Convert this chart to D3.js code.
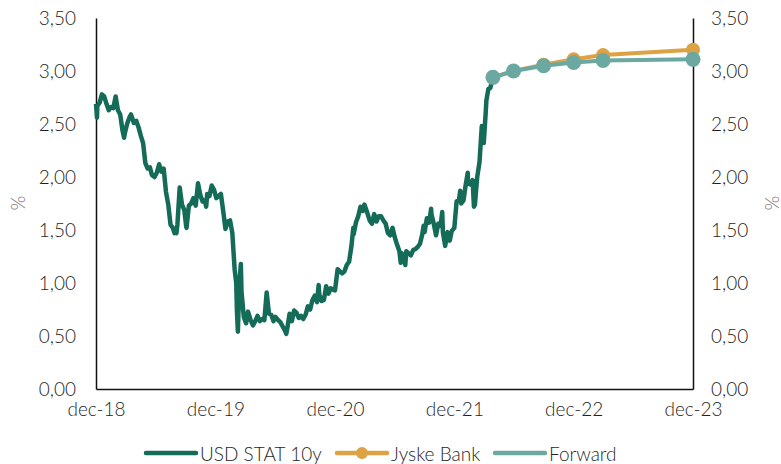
<!DOCTYPE html>
<html><head><meta charset="utf-8">
<script src="https://cdn.jsdelivr.net/npm/d3@7"></script>
<style>
html,body{margin:0;padding:0;background:#fff;}
text{font-family:Lato,"Open Sans",sans-serif;}
</style></head>
<body><svg id="chart" width="781" height="464"></svg>
<script>
// ---- data ----
const usdSeries = [
["2018-12-31",2.69],["2019-01-03",2.56],["2019-01-04",2.67],["2019-01-11",2.70],["2019-01-18",2.78],["2019-01-25",2.76],
["2019-02-01",2.69],["2019-02-08",2.63],["2019-02-15",2.66],["2019-02-22",2.65],["2019-03-01",2.76],["2019-03-08",2.63],
["2019-03-15",2.59],["2019-03-22",2.44],["2019-03-27",2.37],["2019-03-29",2.41],["2019-04-05",2.50],["2019-04-12",2.56],
["2019-04-17",2.59],["2019-04-26",2.51],["2019-05-03",2.53],["2019-05-10",2.47],["2019-05-17",2.39],["2019-05-24",2.32],
["2019-05-31",2.13],["2019-06-07",2.08],["2019-06-14",2.09],["2019-06-20",2.02],["2019-06-28",2.00],["2019-07-05",2.04],
["2019-07-12",2.12],["2019-07-19",2.05],["2019-07-26",2.08],["2019-08-02",1.86],["2019-08-09",1.74],["2019-08-16",1.55],
["2019-08-23",1.52],["2019-08-28",1.47],["2019-08-30",1.50],["2019-09-03",1.47],["2019-09-06",1.55],["2019-09-13",1.90],
["2019-09-20",1.74],["2019-09-27",1.69],["2019-10-03",1.53],["2019-10-04",1.52],["2019-10-11",1.73],["2019-10-18",1.75],
["2019-10-25",1.80],["2019-11-01",1.73],["2019-11-08",1.94],["2019-11-15",1.83],["2019-11-22",1.77],["2019-11-29",1.78],
["2019-12-03",1.72],["2019-12-06",1.84],["2019-12-13",1.82],["2019-12-20",1.92],["2019-12-27",1.88],["2020-01-03",1.80],
["2020-01-10",1.82],["2020-01-17",1.84],["2020-01-24",1.68],["2020-01-31",1.51],["2020-02-07",1.58],["2020-02-14",1.59],
["2020-02-21",1.47],["2020-02-28",1.13],["2020-03-04",1.00],["2020-03-06",0.74],["2020-03-09",0.54],["2020-03-13",0.96],
["2020-03-18",1.18],["2020-03-20",0.92],["2020-03-27",0.68],["2020-04-03",0.62],["2020-04-09",0.73],["2020-04-17",0.65],
["2020-04-24",0.60],["2020-05-01",0.64],["2020-05-08",0.69],["2020-05-15",0.64],["2020-05-22",0.66],["2020-05-29",0.65],
["2020-06-05",0.91],["2020-06-12",0.71],["2020-06-19",0.70],["2020-06-26",0.64],["2020-07-02",0.68],["2020-07-10",0.65],
["2020-07-17",0.63],["2020-07-24",0.59],["2020-07-31",0.55],["2020-08-04",0.52],["2020-08-07",0.57],["2020-08-14",0.71],
["2020-08-21",0.64],["2020-08-28",0.74],["2020-09-04",0.72],["2020-09-11",0.67],["2020-09-18",0.69],["2020-09-25",0.66],
["2020-10-02",0.70],["2020-10-09",0.78],["2020-10-16",0.75],["2020-10-23",0.84],["2020-10-30",0.88],["2020-11-06",0.82],
["2020-11-11",0.98],["2020-11-13",0.89],["2020-11-20",0.83],["2020-11-27",0.84],["2020-12-04",0.97],["2020-12-11",0.90],
["2020-12-18",0.95],["2020-12-24",0.94],["2020-12-31",0.93],["2021-01-08",1.13],["2021-01-15",1.11],["2021-01-22",1.09],
["2021-01-29",1.11],["2021-02-05",1.17],["2021-02-12",1.20],["2021-02-19",1.34],["2021-02-25",1.52],["2021-02-26",1.46],
["2021-03-05",1.57],["2021-03-12",1.63],["2021-03-19",1.72],["2021-03-26",1.68],["2021-03-31",1.74],["2021-04-09",1.66],
["2021-04-16",1.59],["2021-04-23",1.56],["2021-04-30",1.65],["2021-05-07",1.58],["2021-05-14",1.63],["2021-05-21",1.63],
["2021-05-28",1.59],["2021-06-04",1.56],["2021-06-11",1.47],["2021-06-18",1.45],["2021-06-25",1.52],["2021-07-02",1.43],
["2021-07-09",1.36],["2021-07-16",1.30],["2021-07-20",1.19],["2021-07-23",1.28],["2021-07-30",1.24],["2021-08-03",1.17],
["2021-08-06",1.30],["2021-08-13",1.28],["2021-08-20",1.26],["2021-08-27",1.31],["2021-09-03",1.32],["2021-09-10",1.34],
["2021-09-17",1.37],["2021-09-24",1.46],["2021-09-28",1.54],["2021-10-01",1.48],["2021-10-08",1.61],["2021-10-15",1.57],
["2021-10-21",1.70],["2021-10-22",1.65],["2021-10-29",1.56],["2021-11-05",1.45],["2021-11-12",1.56],["2021-11-19",1.54],
["2021-11-24",1.67],["2021-11-26",1.48],["2021-12-03",1.35],["2021-12-10",1.48],["2021-12-17",1.40],["2021-12-23",1.49],
["2021-12-31",1.52],["2022-01-07",1.77],["2022-01-14",1.78],["2022-01-18",1.87],["2022-01-21",1.75],["2022-01-28",1.78],
["2022-02-04",1.93],["2022-02-10",2.04],["2022-02-11",1.94],["2022-02-18",1.93],["2022-02-25",1.97],["2022-03-01",1.72],
["2022-03-04",1.74],["2022-03-11",2.00],["2022-03-18",2.14],["2022-03-25",2.48],["2022-03-31",2.32],["2022-04-06",2.61],
["2022-04-08",2.72],["2022-04-14",2.83],["2022-04-20",2.84],["2022-04-28",2.94]
];
const forecastDates = ["2022-04-28","2022-06-30","2022-09-30","2022-12-31","2023-03-31","2023-12-31"];
const jyskeValues   = [2.94, 3.00, 3.06, 3.11, 3.15, 3.20];
const forwardValues = [2.94, 3.00, 3.05, 3.08, 3.10, 3.11];
const xTickDates = ["2018-12-31","2019-12-31","2020-12-31","2021-12-31","2022-12-31","2023-12-31"];
const yTicks = [0,0.5,1,1.5,2,2.5,3,3.5];
const seriesNames = ["USD STAT 10y","Jyske Bank","Forward"];
const colors = {usd:"#146b58", jyske:"#dca243", forward:"#6ba8a1"};

// ---- chart ----
const parse = d3.timeParse("%Y-%m-%d");
const svg = d3.select("#chart");
const L = 96, R = 693, T = 18, B = 389;
const FS = 19;
const x = d3.scaleTime().domain([parse("2018-12-31"), parse("2023-12-31")]).range([L, R]);
const y = d3.scaleLinear().domain([0, 3.5]).range([B, T]);
const fmt = v => d3.format(".2f")(v).replace(".", ",");
const monthFmt = d => "dec-" + d3.timeFormat("%y")(d);
const textColor = "#1f1f1f";

const yLeft = d3.axisLeft(y).tickValues(yTicks).tickFormat(fmt).tickSize(0).tickPadding(20);
const yRight = d3.axisRight(y).tickValues(yTicks).tickFormat(fmt).tickSize(0).tickPadding(18);
const xAxis = d3.axisBottom(x).tickValues(xTickDates.map(parse)).tickFormat(monthFmt).tickSize(0).tickPadding(14);

function styleAxis(g){
  g.select(".domain").attr("stroke","#111").attr("stroke-width",1.5);
  g.selectAll("text").attr("fill",textColor).attr("font-size",FS).attr("font-family","Lato").attr("font-weight",300);
}
svg.append("g").attr("transform",`translate(${L},0)`).call(yLeft).call(styleAxis);
svg.append("g").attr("transform",`translate(${R},0)`).call(yRight).call(styleAxis);
svg.append("g").attr("transform",`translate(0,${B})`).call(xAxis).call(styleAxis);

// % labels
[[17,203],[771,203]].forEach(([px,py])=>{
  svg.append("text").attr("transform",`translate(${px},${py}) rotate(-90)`)
    .attr("text-anchor","middle").attr("dominant-baseline","central")
    .attr("fill","#6f6f6f").attr("font-size",FS).attr("font-weight",300).text("%");
});

const line = d3.line().x(d=>x(d[0])).y(d=>y(d[1]));

// USD line
svg.append("path").datum(usdSeries.map(d=>[parse(d[0]),d[1]]))
  .attr("fill","none").attr("stroke",colors.usd).attr("stroke-width",4.5)
  .attr("stroke-linejoin","round").attr("d",line);

function drawForecast(vals, color, r){
  const data = forecastDates.map((d,i)=>[parse(d), vals[i]]);
  svg.append("path").datum(data).attr("fill","none").attr("stroke",color)
    .attr("stroke-width",4).attr("stroke-linejoin","round").attr("d",line);
  svg.append("g").selectAll("circle").data(data).join("circle")
    .attr("cx",d=>x(d[0])).attr("cy",d=>y(d[1])).attr("r",r).attr("fill",color);
}
drawForecast(jyskeValues, colors.jyske, 7);
drawForecast(forwardValues, colors.forward, 7.5);

// legend
const lg = svg.append("g");
const legendItems = [
  {name:seriesNames[0], color:colors.usd, x0:146, marker:false},
  {name:seriesNames[1], color:colors.jyske, x0:337, marker:true},
  {name:seriesNames[2], color:colors.forward, x0:495, marker:false}
];
const ly = 453;
legendItems.forEach(it=>{
  lg.append("line").attr("x1",it.x0).attr("x2",it.x0+50).attr("y1",ly).attr("y2",ly)
    .attr("stroke",it.color).attr("stroke-width",4.5).attr("stroke-linecap","round");
  if(it.marker) lg.append("circle").attr("cx",it.x0+25).attr("cy",ly).attr("r",6).attr("fill",it.color);
  lg.append("text").attr("x",it.x0+54).attr("y",ly).attr("dominant-baseline","central")
    .attr("fill",textColor).attr("font-size",FS).attr("font-weight",300).text(it.name);
});
</script></body></html>
